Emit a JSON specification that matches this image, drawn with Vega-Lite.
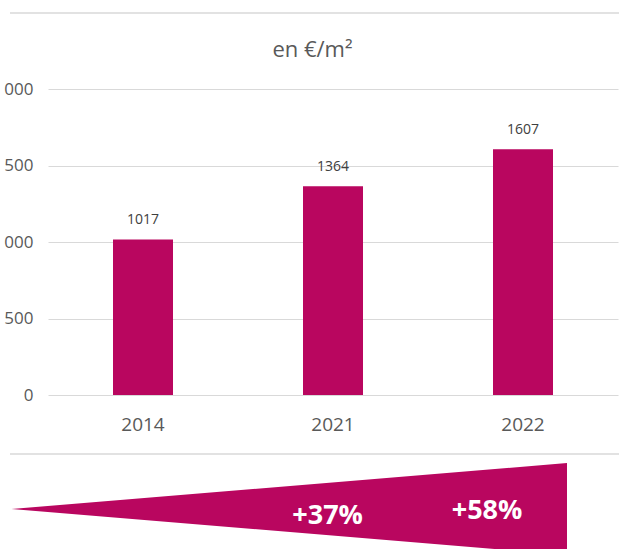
{
  "$schema": "https://vega.github.io/schema/vega-lite/v6.json",
  "width": 619,
  "height": 549,
  "autosize": "none",
  "padding": 0,
  "config": {"view": {"stroke": null}, "font": "Open Sans"},
  "title": {"text": "en €/m²", "fontSize": 22, "font": "Open Sans", "fontWeight": "normal", "color": "#595959", "offset": -62, "anchor": "middle", "frame": "group", "dx": 3},
  "layer": [
    {
      "data": {"values": [{"line": "top"}, {"line": "bottom"}]},
      "mark": {"type": "rule", "color": "#d9d9d9", "strokeWidth": 1.5},
      "encoding": {
        "y": {"field": "line", "type": "nominal", "scale": {"type": "point", "domain": ["top", "bottom"], "range": [13, 454], "padding": 0}, "axis": null},
        "x": {"datum": 0, "type": "quantitative", "scale": {"domain": [0, 1], "range": [10, 619]}, "axis": null},
        "x2": {"datum": 1}
      }
    },
    {
      "data": {"values": [
        {"year": "2014", "price": 1017},
        {"year": "2021", "price": 1364},
        {"year": "2022", "price": 1607}
      ]},
      "encoding": {
        "x": {"field": "year", "type": "nominal", "scale": {"type": "band", "range": [48, 618], "paddingInner": 0, "paddingOuter": 0},
              "axis": {"title": null, "offset": -154, "domain": false, "ticks": false, "grid": false, "labelAngle": 0, "labelFontSize": 19, "labelColor": "#595959", "labelFont": "Open Sans", "labelPadding": 20}},
        "y": {"field": "price", "type": "quantitative", "scale": {"domain": [0, 2000], "range": [395, 89], "nice": false},
              "axis": {"title": null, "offset": -48, "values": [0, 500, 1000, 1500, 2000], "labelExpr": "replace(format(datum.value, ','), ',', ' ')", "domain": false, "ticks": false, "grid": true, "gridColor": "#d9d9d9", "gridWidth": 1.2, "labelFontSize": 17, "labelColor": "#595959", "labelFont": "Open Sans", "labelPadding": 15}}
      },
      "layer": [
        {"mark": {"type": "bar", "color": "#B9065F", "width": 60}},
        {"mark": {"type": "text", "baseline": "alphabetic", "dy": -15, "fontSize": 14, "color": "#404040", "font": "Open Sans"},
         "encoding": {"text": {"field": "price", "type": "quantitative", "format": "d"}}}
      ]
    },
    {
      "data": {"values": [
        {"t": 0, "lo": 0, "hi": 0},
        {"t": 1, "lo": -1, "hi": 1}
      ]},
      "encoding": {
        "x": {"field": "t", "type": "quantitative", "scale": {"domain": [0, 1], "range": [11.5, 567], "nice": false, "zero": false}, "axis": null},
        "y": {"field": "lo", "type": "quantitative", "scale": {"domain": [-1, 1], "range": [555, 463], "nice": false, "zero": false}, "axis": null}
      },
      "layer": [
        {"mark": {"type": "area", "color": "#B9065F", "opacity": 1}, "encoding": {"y2": {"field": "hi"}}},
        {"data": {"values": [
          {"label": "+37%", "t": 0.569, "lo": -0.152},
          {"label": "+58%", "t": 0.856, "lo": -0.054}
        ]},
         "mark": {"type": "text", "baseline": "middle", "align": "center", "fontSize": 27, "fontWeight": "bold", "color": "#ffffff", "font": "Open Sans"},
         "encoding": {"text": {"field": "label", "type": "nominal"}}}
      ]
    }
  ],
  "resolve": {"scale": {"x": "independent", "y": "independent"}}
}
